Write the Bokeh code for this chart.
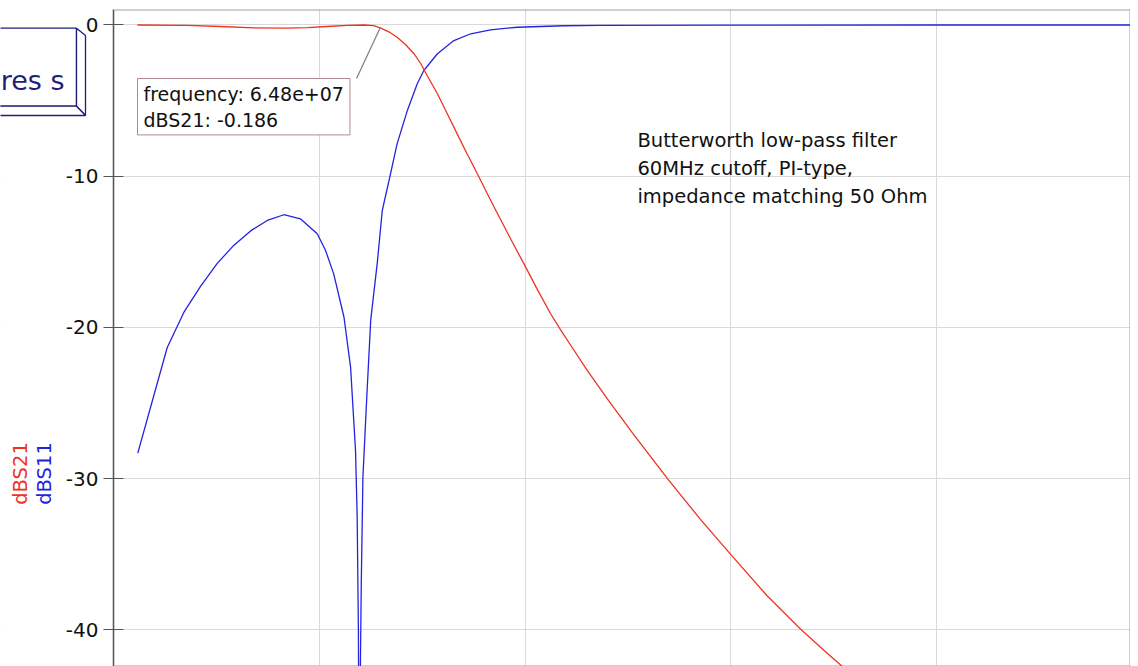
import math
import numpy as np
from bokeh.plotting import figure
from bokeh.models import (Range1d, FixedTicker, Grid, Label, PolyAnnotation,
                          BoxAnnotation)
from bokeh.embed import file_html
from bokeh.resources import INLINE

# ---------------- data ----------------
s21_freq_mhz = [5.8, 17.9, 26.0, 34.1, 42.2, 47.1, 51.9, 56.8, 60.8, 63.2, 64.8,
                66.9, 68.9, 71.0, 73.0, 74.6, 76.2, 78.7, 81.1, 83.5, 85.9,
                88.4, 90.8, 92.4, 96.5, 100.4, 102.9, 106.2, 108.6, 111.0, 115.1,
                120.3, 126.4, 134.6, 142.6, 149.9, 158.8, 166.9, 173.4, 177.4, 185.0]
s21_db = [0.0, -0.03, -0.10, -0.19, -0.21, -0.17, -0.10, -0.03, 0.0, -0.04, -0.186,
          -0.45, -0.81, -1.31, -1.90, -2.53, -3.34, -4.55, -5.87, -7.20, -8.52,
          -9.84, -11.15, -12.0, -14.15, -16.15, -17.45, -19.1, -20.15, -21.15,
          -22.85, -24.85, -27.1, -30.0, -32.7, -35.0, -37.75, -39.95, -41.55,
          -42.5, -44.4]

s11_freq_mhz = [5.9, 9.0, 13.05, 17.08, 21.14, 25.2, 29.2, 33.3, 37.35, 41.4,
                45.4, 49.5, 51.5, 53.5, 56.0, 57.6, 58.8, 59.2, 59.5, 59.75, 60.0,
                60.2, 60.6, 61.5, 62.5, 64.1, 65.3, 67.3, 68.9, 71.4, 73.8,
                75.4, 78.7, 82.7, 86.8, 91.6, 98.1, 109.4, 118.3, 150.0, 200.0,
                247.0]
s11_db = [-28.32, -25.28, -21.33, -19.01, -17.29, -15.77, -14.58, -13.62, -12.93,
          -12.55, -12.82, -13.81, -14.9, -16.46, -19.33, -22.63, -28.14, -32.5,
          -40.0, -55.0, -42.0, -36.9, -29.9, -24.8, -19.5, -15.7, -12.27, -9.84,
          -7.86, -5.65, -3.89, -3.01, -1.90, -1.03, -0.58, -0.32, -0.15, -0.05,
          -0.03, -0.01, 0.0, 0.0]

y_ticks = [0, -10, -20, -30, -40]
y_tick_labels = {0: "0", -10: "-10", -20: "-20", -30: "-30", -40: "-40"}
x_grid_ticks_hz = [0, 50e6, 100e6, 150e6, 200e6]

marker_freq_hz = 6.48e7
marker_db = -0.186
marker_text = "frequency: 6.48e+07\ndBS21: -0.186"
note_text = "Butterworth low-pass filter\n60MHz cutoff, PI-type,\nimpedance matching 50 Ohm"
diagram_title = "res s"

RED = "#ee3322"
BLUE = "#2424dd"
NAVY = "#1f1f78"
FONT = "DejaVu Sans"
W, H = 1130, 666

X0, X1 = -27.46e6, 247.1e6      # canvas spans the label column too
Y0, Y1 = -42.43, 1.025

# ---------------- figure ----------------
p = figure(width=W, height=H, output_backend="svg", toolbar_location=None,
           title=None, x_range=Range1d(X0, X1), y_range=Range1d(Y0, Y1),
           x_axis_location=None, y_axis_location="left",
           min_border_left=0, min_border_right=0, min_border_top=9,
           min_border_bottom=0)
p.background_fill_color = "white"
p.border_fill_color = "white"
p.outline_line_color = None

ax = p.yaxis[0]
ax.fixed_location = 0
ax.ticker = FixedTicker(ticks=y_ticks)
ax.major_label_overrides = y_tick_labels
ax.major_tick_in = 10
ax.major_tick_out = 10
ax.minor_tick_in = 0
ax.minor_tick_out = 0
ax.axis_line_color = "#555555"
ax.major_tick_line_color = "#555555"
ax.major_label_text_font = FONT
ax.major_label_text_font_size = "20px"
ax.major_label_text_color = "#111111"
ax.major_label_standoff = 5

p.ygrid[0].ticker = FixedTicker(ticks=y_ticks)
p.ygrid[0].grid_line_color = "#d9d9d9"
p.add_layout(Grid(dimension=0, ticker=FixedTicker(ticks=x_grid_ticks_hz),
                  grid_line_color="#d9d9d9"))

# white mask over the label column (left of the y axis) and the plot border
p.add_layout(BoxAnnotation(left=X0, right=0, top=Y1, bottom=Y0, level="underlay",
                           fill_color="white", fill_alpha=1, line_color=None))
p.add_layout(BoxAnnotation(left=0, right=X1, top=Y1, bottom=Y0, level="underlay",
                           fill_alpha=0, line_color="#a0a0a0", line_alpha=1,
                           line_width=2))

p.line(np.array(s11_freq_mhz) * 1e6, s11_db, line_color=BLUE, line_width=1.3)
p.line(np.array(s21_freq_mhz) * 1e6, s21_db, line_color=RED, line_width=1.3)

# ---------------- marker box ----------------
box_left_hz = 5.83e6
box_top_db = -3.54
box_right_hz = 59.05e6
p.segment(x0=[box_right_hz], y0=[box_top_db], x1=[marker_freq_hz], y1=[marker_db],
          line_color="#857585", line_width=1.2)
p.add_layout(Label(x=box_left_hz, y=box_top_db, text=marker_text, anchor="top_left",
                   text_align="left", text_baseline="top",
                   text_font=FONT, text_font_size="19px", text_color="#111111",
                   text_line_height=1.2, padding=(6, 4),
                   background_fill_color="white", border_line_color="#b08898",
                   border_line_width=1))

# ---------------- note ----------------
p.add_layout(Label(x=127.3e6, y=-6.85, text=note_text, text_align="left",
                   text_baseline="top", text_font=FONT, text_font_size="19.5px",
                   text_color="#111111", text_line_height=1.23))

# ---------------- left side items (screen units, frame relative) ----------------


def sy(v):
    return H - v


front = ([-5, 76, 76, -5], [27.7, 27.7, 105.7, 105.7])
side = ([76, 85, 85, 76], [27.7, 35, 115, 105.7])
bottom = ([-5, 76, 85, -5], [105.7, 105.7, 115, 115])
for xs, ys in (front, side, bottom):
    p.add_layout(PolyAnnotation(xs=xs, ys=[sy(v) for v in ys],
                                xs_units="screen", ys_units="screen",
                                fill_color="white", fill_alpha=1,
                                line_color=NAVY, line_alpha=1, line_width=1.3))
p.add_layout(Label(x=64, y=sy(80), x_units="screen", y_units="screen",
                   text=diagram_title, text_align="right", text_baseline="middle",
                   text_font=FONT, text_font_size="27px", text_color=NAVY))

p.add_layout(Label(x=20, y=sy(473), x_units="screen", y_units="screen",
                   text="dBS21", angle=math.pi / 2, text_align="center",
                   text_baseline="middle", text_font=FONT, text_font_size="19.5px",
                   text_color=RED))
p.add_layout(Label(x=44, y=sy(473), x_units="screen", y_units="screen",
                   text="dBS11", angle=math.pi / 2, text_align="center",
                   text_baseline="middle", text_font=FONT, text_font_size="19.5px",
                   text_color=BLUE))

open("out.html", "w").write(file_html(p, INLINE))
